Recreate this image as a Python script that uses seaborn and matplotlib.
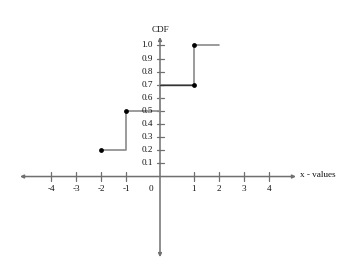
import numpy as np
import matplotlib
matplotlib.use("Agg")
import matplotlib.pyplot as plt
import seaborn as sns
import pandas as pd

# data
step_x = [-2, -1, 0, 1, 2]
step_cdf = [0.2, 0.5, 0.7, 1.0, 1.0]
dot_x = [-2, -1, 1, 1]
dot_cdf = [0.2, 0.5, 0.7, 1.0]
x_ticks = [-4, -3, -2, -1, 1, 2, 3, 4]
y_ticks = [0.1, 0.2, 0.3, 0.4, 0.5, 0.6, 0.7, 0.8, 0.9, 1.0]

sns.set_style("white")
plt.rcParams['font.family'] = ['Liberation Serif', 'DejaVu Serif']

# piecewise scale: unit interval around 0 is wider than the others
K = 1.36
def fwd(x):
    x = np.asarray(x, dtype=float)
    a = np.abs(x)
    return np.where(a <= 1, x * K, np.sign(x) * (K + a - 1))
def inv(t):
    t = np.asarray(t, dtype=float)
    a = np.abs(t)
    return np.where(a <= K, t / K, np.sign(t) * (a - K + 1))

fig = plt.figure(figsize=(3.48, 2.68), dpi=100)
ax = fig.add_axes([0, 0, 1, 1])
ax.set_xscale('function', functions=(fwd, inv))
ax.set_xlim(-6.04, 7.16)
ax.set_ylim(-0.698, 1.347)

df = pd.DataFrame({'x': step_x, 'cdf': step_cdf})
sns.lineplot(data=df, x='x', y='cdf', drawstyle='steps-post', color='#8a8a8a',
             linewidth=1.2, ax=ax, zorder=2)
ax.plot([0, 1], [0.7, 0.7], color='#333333', lw=1.0, zorder=2)
sns.scatterplot(x=dot_x, y=dot_cdf, color='black', s=12, edgecolor='black',
                linewidth=0, ax=ax, zorder=4)

# axes with arrows
ax_col = '#707070'
ax.annotate('', xy=(5.08, 0), xytext=(-5.24, 0),
            arrowprops=dict(arrowstyle='<|-|>', color=ax_col, lw=1.1,
                            mutation_scale=5, shrinkA=0, shrinkB=0), zorder=1)
ax.annotate('', xy=(0, 1.065), xytext=(0, -0.615),
            arrowprops=dict(arrowstyle='<|-|>', color=ax_col, lw=1.1,
                            mutation_scale=5, shrinkA=0, shrinkB=0), zorder=1)

for s in ax.spines.values():
    s.set_visible(False)
ax.set_xticks([])
ax.set_yticks([])
ax.set_xlabel('')
ax.set_ylabel('')

fs = 6.6
tc = '#111111'
for xv in x_ticks:
    ax.plot([xv, xv], [-0.035, 0.035], color=ax_col, lw=0.9, zorder=1)
    ax.annotate(str(xv), (xv, 0), xytext=(0, -9), textcoords='offset points',
                ha='center', va='center', fontsize=fs, color=tc)
ax.annotate('0', (0, 0), xytext=(-6.5, -9), textcoords='offset points',
            ha='center', va='center', fontsize=fs, color=tc)
for yv in y_ticks:
    ax.plot([-0.1, 0.13], [yv, yv], color=ax_col, lw=0.9, zorder=1)
    ax.annotate(f"{yv:.1f}", (0, yv), xytext=(-5, 0), textcoords='offset points',
                ha='right', va='center', fontsize=fs, color=tc)

ax.annotate('x - values', (5.08, 0), xytext=(3, 1), textcoords='offset points',
            ha='left', va='center', fontsize=fs, color=tc)
ax.annotate('CDF', (0, 1.065), xytext=(0, 5), textcoords='offset points',
            ha='center', va='center', fontsize=fs, color=tc)

fig.savefig('out.png', dpi=100)
